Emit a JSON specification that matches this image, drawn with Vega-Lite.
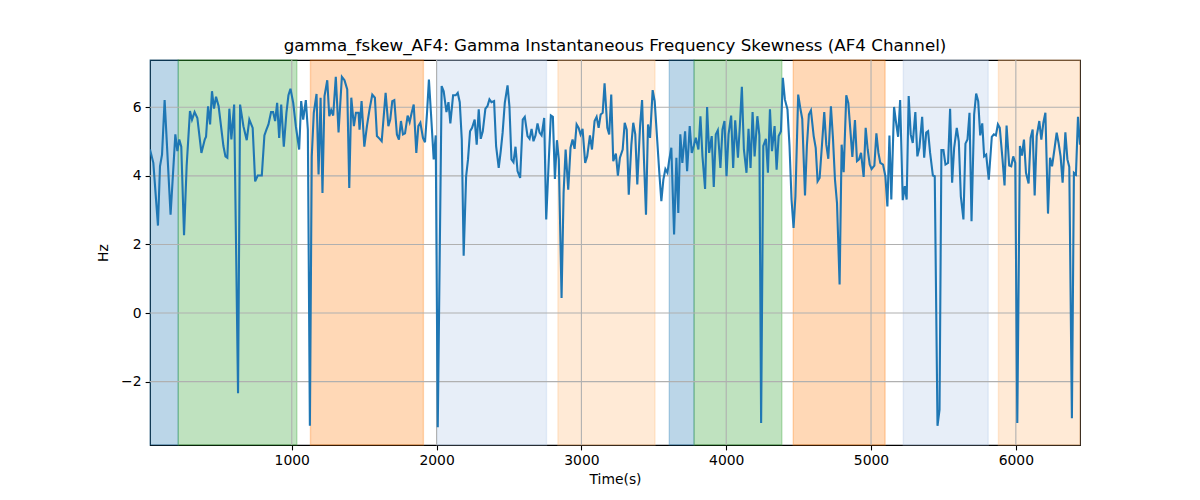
{
  "$schema": "https://vega.github.io/schema/vega-lite/v6.json",
  "autosize": "none",
  "width": 930,
  "height": 385,
  "padding": {"left": 150, "top": 60, "right": 120, "bottom": 55},
  "background": "white",
  "title": {
    "text": "gamma_fskew_AF4: Gamma Instantaneous Frequency Skewness (AF4 Channel)",
    "font": "DejaVu Sans",
    "fontSize": 16.7,
    "fontWeight": "normal",
    "color": "black",
    "anchor": "middle",
    "offset": 5
  },
  "config": {
    "view": {"stroke": "black", "strokeWidth": 1.1},
    "axis": {
      "grid": false,
      "domain": false,
      "labelFont": "DejaVu Sans",
      "labelFontSize": 13.9,
      "labelColor": "black",
      "tickColor": "black",
      "tickSize": 4.9,
      "tickWidth": 1.1,
      "labelPadding": 4,
      "titleFont": "DejaVu Sans",
      "titleFontSize": 13.9,
      "titleFontWeight": "normal",
      "titleColor": "black"
    }
  },
  "datasets": {
    "spans": [
      {"start": 21, "end": 216, "band": "blue"},
      {"start": 216, "end": 1035, "band": "green"},
      {"start": 1129, "end": 1909, "band": "orange"},
      {"start": 2001, "end": 2759, "band": "lightblue"},
      {"start": 2838, "end": 3508, "band": "lightorange"},
      {"start": 3607, "end": 3778, "band": "blue"},
      {"start": 3778, "end": 4384, "band": "green"},
      {"start": 4463, "end": 5097, "band": "orange"},
      {"start": 5223, "end": 5809, "band": "lightblue"},
      {"start": 5880, "end": 6443, "band": "lightorange"}
    ],
    "xgrid": [{"t": 1000}, {"t": 2000}, {"t": 3000}, {"t": 4000}, {"t": 5000}, {"t": 6000}],
    "ygrid": [{"v": -2}, {"v": 0}, {"v": 2}, {"v": 4}, {"v": 6}],
    "signal": [
      {"t": 21, "v": 4.77}, {"t": 44, "v": 4.38}, {"t": 76, "v": 2.55}, {"t": 90, "v": 4.28}, {"t": 104, "v": 4.62},
      {"t": 122, "v": 6.21}, {"t": 163, "v": 2.87}, {"t": 196, "v": 5.21}, {"t": 210, "v": 4.72}, {"t": 223, "v": 5.06},
      {"t": 237, "v": 4.85}, {"t": 256, "v": 2.27}, {"t": 274, "v": 4.28}, {"t": 297, "v": 5.89}, {"t": 311, "v": 5.64},
      {"t": 329, "v": 5.86}, {"t": 348, "v": 5.69}, {"t": 376, "v": 4.67}, {"t": 399, "v": 5.06}, {"t": 408, "v": 5.14},
      {"t": 422, "v": 6.03}, {"t": 436, "v": 5.50}, {"t": 449, "v": 6.47}, {"t": 463, "v": 5.96}, {"t": 477, "v": 6.31},
      {"t": 495, "v": 6.03}, {"t": 528, "v": 4.87}, {"t": 542, "v": 4.57}, {"t": 555, "v": 4.53}, {"t": 569, "v": 5.96},
      {"t": 583, "v": 5.06}, {"t": 602, "v": 6.08}, {"t": 629, "v": -2.34}, {"t": 643, "v": 6.08}, {"t": 666, "v": 5.45},
      {"t": 689, "v": 5.04}, {"t": 707, "v": 5.64}, {"t": 730, "v": 5.40}, {"t": 747, "v": 3.84}, {"t": 765, "v": 4.01},
      {"t": 793, "v": 4.01}, {"t": 811, "v": 5.18}, {"t": 825, "v": 5.35}, {"t": 839, "v": 5.50}, {"t": 857, "v": 5.86},
      {"t": 871, "v": 5.86}, {"t": 885, "v": 5.60}, {"t": 899, "v": 6.13}, {"t": 913, "v": 5.11}, {"t": 927, "v": 6.08},
      {"t": 945, "v": 4.85}, {"t": 963, "v": 5.84}, {"t": 977, "v": 6.35}, {"t": 991, "v": 6.54}, {"t": 1010, "v": 6.13},
      {"t": 1028, "v": 5.45}, {"t": 1051, "v": 4.77}, {"t": 1065, "v": 6.18}, {"t": 1079, "v": 5.64}, {"t": 1097, "v": 6.21},
      {"t": 1111, "v": 5.35}, {"t": 1125, "v": -3.29}, {"t": 1138, "v": 4.57}, {"t": 1152, "v": 5.84}, {"t": 1171, "v": 6.39},
      {"t": 1185, "v": 4.04}, {"t": 1199, "v": 6.28}, {"t": 1212, "v": 3.50}, {"t": 1226, "v": 6.33}, {"t": 1245, "v": 6.79},
      {"t": 1259, "v": 5.74}, {"t": 1272, "v": 5.92}, {"t": 1286, "v": 5.76}, {"t": 1304, "v": 6.89}, {"t": 1323, "v": 5.27},
      {"t": 1346, "v": 6.89}, {"t": 1364, "v": 6.79}, {"t": 1383, "v": 6.52}, {"t": 1397, "v": 3.65}, {"t": 1411, "v": 6.28},
      {"t": 1429, "v": 5.45}, {"t": 1443, "v": 5.84}, {"t": 1461, "v": 5.84}, {"t": 1468, "v": 5.35}, {"t": 1482, "v": 6.18},
      {"t": 1501, "v": 4.85}, {"t": 1519, "v": 5.45}, {"t": 1537, "v": 5.94}, {"t": 1556, "v": 6.37}, {"t": 1574, "v": 6.28},
      {"t": 1588, "v": 5.16}, {"t": 1607, "v": 5.08}, {"t": 1621, "v": 5.01}, {"t": 1648, "v": 6.42}, {"t": 1667, "v": 5.45},
      {"t": 1680, "v": 5.64}, {"t": 1694, "v": 6.18}, {"t": 1708, "v": 6.21}, {"t": 1726, "v": 5.21}, {"t": 1740, "v": 5.06},
      {"t": 1754, "v": 5.60}, {"t": 1768, "v": 5.21}, {"t": 1782, "v": 5.24}, {"t": 1800, "v": 5.76}, {"t": 1814, "v": 5.57},
      {"t": 1828, "v": 5.84}, {"t": 1842, "v": 6.08}, {"t": 1860, "v": 4.67}, {"t": 1874, "v": 5.45}, {"t": 1888, "v": 5.55},
      {"t": 1906, "v": 5.11}, {"t": 1920, "v": 4.98}, {"t": 1934, "v": 5.84}, {"t": 1947, "v": 6.81}, {"t": 1961, "v": 5.84},
      {"t": 1980, "v": 4.48}, {"t": 1994, "v": 5.18}, {"t": 2008, "v": -3.33}, {"t": 2035, "v": 6.62}, {"t": 2049, "v": 6.47},
      {"t": 2068, "v": 5.86}, {"t": 2082, "v": 6.15}, {"t": 2095, "v": 5.53}, {"t": 2114, "v": 6.35}, {"t": 2132, "v": 6.35},
      {"t": 2146, "v": 6.42}, {"t": 2160, "v": 6.15}, {"t": 2174, "v": 5.06}, {"t": 2187, "v": 1.67}, {"t": 2204, "v": 3.99},
      {"t": 2217, "v": 4.48}, {"t": 2231, "v": 5.30}, {"t": 2245, "v": 5.40}, {"t": 2263, "v": 5.64}, {"t": 2277, "v": 4.91},
      {"t": 2291, "v": 5.94}, {"t": 2305, "v": 5.08}, {"t": 2319, "v": 5.30}, {"t": 2337, "v": 5.96}, {"t": 2351, "v": 6.03},
      {"t": 2365, "v": 6.23}, {"t": 2379, "v": 6.15}, {"t": 2397, "v": 6.18}, {"t": 2411, "v": 4.87}, {"t": 2429, "v": 4.23},
      {"t": 2443, "v": 4.72}, {"t": 2456, "v": 5.26}, {"t": 2471, "v": 6.13}, {"t": 2490, "v": 6.64}, {"t": 2503, "v": 6.03},
      {"t": 2517, "v": 4.48}, {"t": 2531, "v": 4.40}, {"t": 2545, "v": 4.85}, {"t": 2559, "v": 4.14}, {"t": 2577, "v": 3.94},
      {"t": 2595, "v": 5.64}, {"t": 2609, "v": 5.72}, {"t": 2628, "v": 5.16}, {"t": 2642, "v": 5.08}, {"t": 2656, "v": 5.37},
      {"t": 2669, "v": 5.01}, {"t": 2683, "v": 5.18}, {"t": 2697, "v": 5.53}, {"t": 2711, "v": 5.26}, {"t": 2725, "v": 5.18},
      {"t": 2743, "v": 5.69}, {"t": 2757, "v": 2.73}, {"t": 2775, "v": 4.48}, {"t": 2789, "v": 5.76}, {"t": 2803, "v": 5.72},
      {"t": 2817, "v": 3.91}, {"t": 2831, "v": 5.04}, {"t": 2844, "v": 4.48}, {"t": 2863, "v": 0.44}, {"t": 2877, "v": 3.50},
      {"t": 2891, "v": 4.77}, {"t": 2909, "v": 3.60}, {"t": 2925, "v": 4.82}, {"t": 2939, "v": 5.06}, {"t": 2953, "v": 4.79},
      {"t": 2967, "v": 5.50}, {"t": 2981, "v": 5.40}, {"t": 2994, "v": 5.21}, {"t": 3008, "v": 5.37}, {"t": 3026, "v": 4.38},
      {"t": 3040, "v": 4.57}, {"t": 3059, "v": 5.18}, {"t": 3073, "v": 4.77}, {"t": 3091, "v": 5.60}, {"t": 3105, "v": 5.72},
      {"t": 3119, "v": 5.40}, {"t": 3133, "v": 5.79}, {"t": 3147, "v": 5.84}, {"t": 3160, "v": 6.70}, {"t": 3179, "v": 5.40},
      {"t": 3192, "v": 5.21}, {"t": 3206, "v": 6.37}, {"t": 3220, "v": 4.43}, {"t": 3238, "v": 4.65}, {"t": 3252, "v": 4.01},
      {"t": 3266, "v": 4.53}, {"t": 3285, "v": 4.77}, {"t": 3299, "v": 5.55}, {"t": 3313, "v": 5.35}, {"t": 3327, "v": 3.45},
      {"t": 3345, "v": 4.91}, {"t": 3358, "v": 5.55}, {"t": 3372, "v": 5.21}, {"t": 3386, "v": 3.75}, {"t": 3405, "v": 5.45},
      {"t": 3419, "v": 6.21}, {"t": 3432, "v": 4.48}, {"t": 3446, "v": 2.87}, {"t": 3460, "v": 5.50}, {"t": 3474, "v": 5.11},
      {"t": 3492, "v": 6.50}, {"t": 3506, "v": 6.18}, {"t": 3524, "v": 5.01}, {"t": 3538, "v": 4.09}, {"t": 3552, "v": 3.26},
      {"t": 3566, "v": 3.89}, {"t": 3580, "v": 4.20}, {"t": 3594, "v": 4.09}, {"t": 3607, "v": 4.48}, {"t": 3621, "v": 4.82},
      {"t": 3640, "v": 2.29}, {"t": 3656, "v": 4.53}, {"t": 3669, "v": 2.92}, {"t": 3683, "v": 5.21}, {"t": 3697, "v": 4.38},
      {"t": 3716, "v": 5.30}, {"t": 3730, "v": 4.14}, {"t": 3748, "v": 5.45}, {"t": 3762, "v": 4.67}, {"t": 3776, "v": 4.87},
      {"t": 3790, "v": 5.11}, {"t": 3808, "v": 4.77}, {"t": 3822, "v": 5.74}, {"t": 3836, "v": 4.57}, {"t": 3854, "v": 3.62},
      {"t": 3868, "v": 6.01}, {"t": 3882, "v": 4.67}, {"t": 3900, "v": 5.16}, {"t": 3914, "v": 3.68}, {"t": 3928, "v": 5.21},
      {"t": 3942, "v": 5.33}, {"t": 3960, "v": 4.23}, {"t": 3974, "v": 5.35}, {"t": 3988, "v": 5.60}, {"t": 4002, "v": 3.99},
      {"t": 4016, "v": 5.21}, {"t": 4034, "v": 5.76}, {"t": 4048, "v": 4.23}, {"t": 4062, "v": 5.62}, {"t": 4081, "v": 4.53},
      {"t": 4094, "v": 5.45}, {"t": 4108, "v": 6.60}, {"t": 4122, "v": 4.77}, {"t": 4140, "v": 4.09}, {"t": 4154, "v": 5.37},
      {"t": 4168, "v": 4.23}, {"t": 4182, "v": 5.86}, {"t": 4196, "v": 4.57}, {"t": 4215, "v": 5.74}, {"t": 4229, "v": 5.18},
      {"t": 4241, "v": -3.21}, {"t": 4256, "v": 4.87}, {"t": 4274, "v": 5.08}, {"t": 4288, "v": 4.09}, {"t": 4302, "v": 5.94},
      {"t": 4316, "v": 4.72}, {"t": 4334, "v": 5.45}, {"t": 4348, "v": 4.18}, {"t": 4362, "v": 5.16}, {"t": 4378, "v": 5.30},
      {"t": 4391, "v": 6.86}, {"t": 4405, "v": 6.23}, {"t": 4423, "v": 5.94}, {"t": 4437, "v": 4.87}, {"t": 4451, "v": 3.31},
      {"t": 4465, "v": 2.48}, {"t": 4478, "v": 3.41}, {"t": 4497, "v": 6.37}, {"t": 4511, "v": 5.99}, {"t": 4525, "v": 5.66},
      {"t": 4544, "v": 3.43}, {"t": 4557, "v": 4.87}, {"t": 4571, "v": 5.79}, {"t": 4585, "v": 5.91}, {"t": 4604, "v": 5.16},
      {"t": 4618, "v": 4.82}, {"t": 4631, "v": 3.84}, {"t": 4645, "v": 3.94}, {"t": 4659, "v": 4.77}, {"t": 4677, "v": 5.86},
      {"t": 4691, "v": 4.91}, {"t": 4705, "v": 4.50}, {"t": 4723, "v": 6.03}, {"t": 4737, "v": 5.11}, {"t": 4751, "v": 3.89},
      {"t": 4765, "v": 3.21}, {"t": 4783, "v": 0.83}, {"t": 4797, "v": 4.91}, {"t": 4811, "v": 4.11}, {"t": 4829, "v": 6.35},
      {"t": 4843, "v": 6.13}, {"t": 4857, "v": 5.35}, {"t": 4871, "v": 4.55}, {"t": 4889, "v": 5.63}, {"t": 4903, "v": 4.43},
      {"t": 4917, "v": 4.48}, {"t": 4931, "v": 4.67}, {"t": 4949, "v": 3.97}, {"t": 4963, "v": 5.40}, {"t": 4977, "v": 4.77},
      {"t": 4991, "v": 4.33}, {"t": 5004, "v": 4.20}, {"t": 5023, "v": 4.30}, {"t": 5037, "v": 5.24}, {"t": 5051, "v": 4.67},
      {"t": 5064, "v": 4.38}, {"t": 5083, "v": 4.33}, {"t": 5099, "v": 3.99}, {"t": 5113, "v": 3.11}, {"t": 5127, "v": 5.18},
      {"t": 5140, "v": 3.31}, {"t": 5159, "v": 6.01}, {"t": 5173, "v": 5.55}, {"t": 5187, "v": 5.14}, {"t": 5201, "v": 6.21},
      {"t": 5219, "v": 3.29}, {"t": 5233, "v": 3.70}, {"t": 5246, "v": 3.31}, {"t": 5260, "v": 6.33}, {"t": 5274, "v": 5.21},
      {"t": 5288, "v": 4.96}, {"t": 5306, "v": 5.86}, {"t": 5320, "v": 4.57}, {"t": 5334, "v": 4.82}, {"t": 5353, "v": 5.72},
      {"t": 5367, "v": 4.53}, {"t": 5381, "v": 5.26}, {"t": 5394, "v": 5.30}, {"t": 5408, "v": 4.67}, {"t": 5427, "v": 4.01},
      {"t": 5440, "v": 3.99}, {"t": 5459, "v": -3.29}, {"t": 5473, "v": -2.82}, {"t": 5486, "v": 4.75}, {"t": 5500, "v": 4.75},
      {"t": 5514, "v": 4.33}, {"t": 5532, "v": 4.38}, {"t": 5546, "v": 5.96}, {"t": 5560, "v": 3.80}, {"t": 5574, "v": 4.82},
      {"t": 5592, "v": 5.40}, {"t": 5606, "v": 5.01}, {"t": 5620, "v": 3.41}, {"t": 5638, "v": 2.73}, {"t": 5652, "v": 4.94},
      {"t": 5666, "v": 5.06}, {"t": 5680, "v": 5.84}, {"t": 5694, "v": 2.68}, {"t": 5712, "v": 5.79}, {"t": 5726, "v": 6.40},
      {"t": 5740, "v": 6.18}, {"t": 5754, "v": 5.18}, {"t": 5768, "v": 5.53}, {"t": 5781, "v": 4.57}, {"t": 5795, "v": 4.62},
      {"t": 5813, "v": 3.89}, {"t": 5834, "v": 5.14}, {"t": 5848, "v": 5.21}, {"t": 5862, "v": 5.18}, {"t": 5876, "v": 5.50},
      {"t": 5889, "v": 5.40}, {"t": 5908, "v": 4.48}, {"t": 5922, "v": 3.72}, {"t": 5936, "v": 5.47}, {"t": 5954, "v": 4.30},
      {"t": 5968, "v": 4.28}, {"t": 5982, "v": 4.57}, {"t": 5996, "v": 4.38}, {"t": 6010, "v": -3.21}, {"t": 6028, "v": 4.87},
      {"t": 6042, "v": 4.59}, {"t": 6056, "v": 5.06}, {"t": 6070, "v": 4.09}, {"t": 6088, "v": 3.78}, {"t": 6102, "v": 5.11},
      {"t": 6116, "v": 5.35}, {"t": 6130, "v": 3.43}, {"t": 6144, "v": 5.16}, {"t": 6162, "v": 5.60}, {"t": 6176, "v": 5.06},
      {"t": 6190, "v": 5.55}, {"t": 6204, "v": 5.84}, {"t": 6222, "v": 2.90}, {"t": 6236, "v": 4.53}, {"t": 6250, "v": 4.28},
      {"t": 6268, "v": 4.82}, {"t": 6282, "v": 5.26}, {"t": 6295, "v": 4.96}, {"t": 6309, "v": 4.57}, {"t": 6323, "v": 3.80},
      {"t": 6342, "v": 5.27}, {"t": 6356, "v": 4.48}, {"t": 6369, "v": 4.26}, {"t": 6387, "v": -3.07}, {"t": 6401, "v": 4.09},
      {"t": 6415, "v": 4.04}, {"t": 6429, "v": 5.72}, {"t": 6443, "v": 4.91}
    ]
  },
  "layer": [
    {
      "data": {"name": "spans"},
      "mark": {"type": "rect", "fillOpacity": 0.3, "strokeOpacity": 0.3, "strokeWidth": 1.4},
      "encoding": {
        "x": {
          "field": "start", "type": "quantitative",
          "scale": {"domain": [21, 6443], "nice": false, "zero": false},
          "axis": {"title": "Time(s)", "values": [1000, 2000, 3000, 4000, 5000, 6000], "format": "d", "titlePadding": 5}
        },
        "x2": {"field": "end"},
        "fill": {
          "field": "band", "type": "nominal", "legend": null,
          "scale": {"domain": ["blue", "green", "orange", "lightblue", "lightorange"], "range": ["#1f77b4", "#2ca02c", "#ff7f0e", "#aec7e8", "#ffbb78"]}
        },
        "stroke": {
          "field": "band", "type": "nominal", "legend": null,
          "scale": {"domain": ["blue", "green", "orange", "lightblue", "lightorange"], "range": ["#1f77b4", "#2ca02c", "#ff7f0e", "#aec7e8", "#ffbb78"]}
        }
      }
    },
    {
      "data": {"name": "xgrid"},
      "mark": {"type": "rule", "color": "#b0b0b0", "strokeWidth": 1.1},
      "encoding": {
        "x": {
          "field": "t", "type": "quantitative",
          "axis": {"title": "Time(s)", "values": [1000, 2000, 3000, 4000, 5000, 6000], "format": "d", "titlePadding": 5}
        }
      }
    },
    {
      "data": {"name": "ygrid"},
      "mark": {"type": "rule", "color": "#b0b0b0", "strokeWidth": 1.1},
      "encoding": {
        "y": {
          "field": "v", "type": "quantitative",
          "scale": {"domain": [-3.85, 7.38], "nice": false, "zero": false},
          "axis": {"title": "Hz", "values": [-2, 0, 2, 4, 6], "format": "d", "titlePadding": 10}
        }
      }
    },
    {
      "data": {"name": "signal"},
      "mark": {"type": "line", "color": "#1f77b4", "strokeWidth": 2.1, "clip": true},
      "encoding": {
        "x": {
          "field": "t", "type": "quantitative",
          "axis": {"title": "Time(s)", "values": [1000, 2000, 3000, 4000, 5000, 6000], "format": "d", "titlePadding": 5}
        },
        "y": {
          "field": "v", "type": "quantitative",
          "axis": {"title": "Hz", "values": [-2, 0, 2, 4, 6], "format": "d", "titlePadding": 10}
        }
      }
    }
  ]
}
